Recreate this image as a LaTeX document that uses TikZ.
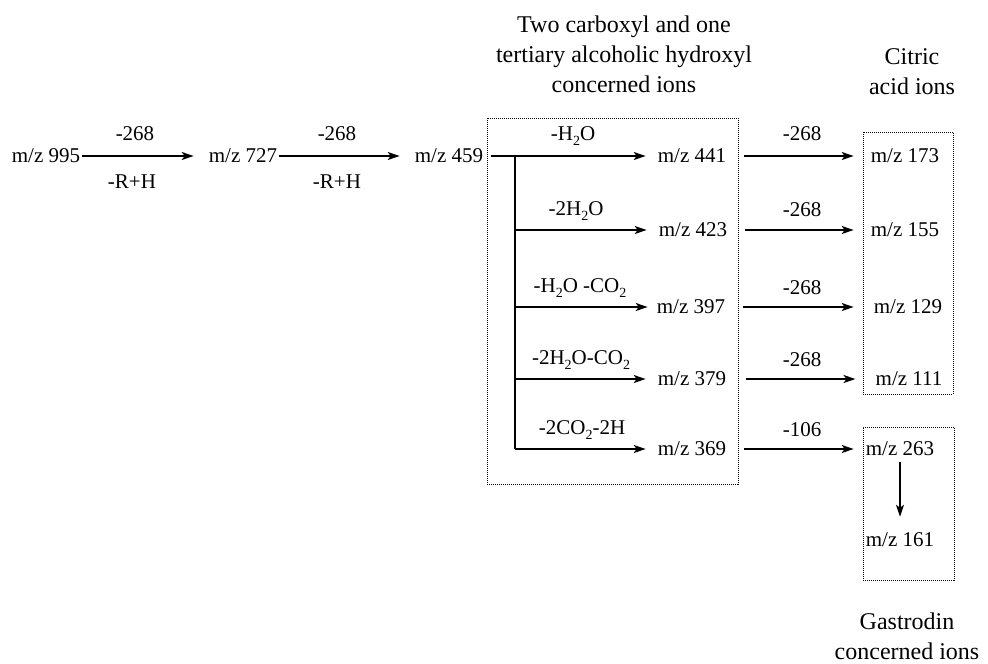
\documentclass[tikz,border=0pt]{standalone}
\usepackage{fontspec}
\setmainfont{Liberation Serif}
\usetikzlibrary{arrows.meta}
\newcommand\subtwo{\raisebox{-0.5ex}{\fontsize{14}{14}\selectfont 2}}
\begin{document}
\begin{tikzpicture}[x=1pt,y=-1pt,
  ion/.style={font=\fontsize{21}{25}\selectfont, inner sep=0pt},
  lbl/.style={font=\fontsize{21}{25}\selectfont, inner sep=0pt},
  ttl/.style={font=\fontsize{24}{30}\selectfont, align=center, inner sep=0pt, anchor=north},
  arr/.style={line width=1.3pt, -{Stealth[length=12pt,width=8pt,inset=3pt]}},
  ln/.style={line width=1.3pt},
  grp/.style={draw, line width=0.8pt, dash pattern=on 1pt off 1pt, inner sep=0pt}]
\useasboundingbox (0,0) rectangle (988,664);
\fill[white] (0,0) rectangle (988,664);

% titles
\node[ttl] (tA) at (624,16) {Two carboxyl and one\\tertiary alcoholic hydroxyl\\concerned ions};
\node[ttl] (tB) at (912,48) {Citric\\acid ions};
\node[ttl] (tC) at (907,613) {Gastrodin\\concerned ions};

% group boxes
\node[grp, minimum width=251pt, minimum height=366pt] (box1) at (612.5,301) {};
\node[grp, minimum width=90pt, minimum height=262pt] (box2) at (908,263) {};
\node[grp, minimum width=91pt, minimum height=153pt] (box3) at (908.5,503.5) {};

% first row
\node[ion] (n995) at (46,156) {m/z 995};
\node[ion] (n727) at (243,156) {m/z 727};
\node[ion] (n459) at (449,156) {m/z 459};
\draw[arr, shorten <=2pt, shorten >=15pt] (n995.east) -- (n727.west);
\draw[arr, shorten <=2pt, shorten >=15pt] (n727.east) -- (n459.west);
\node[lbl] (l1a) at (135,134) {-268};
\node[lbl] (l1b) at (132,182) {-R+H};
\node[lbl] (l2a) at (337,134) {-268};
\node[lbl] (l2b) at (337,182) {-R+H};

% branch products
\node[ion] (n441) at (692,156) {m/z 441};
\node[ion] (n423) at (693,230) {m/z 423};
\node[ion] (n397) at (691,307) {m/z 397};
\node[ion] (n379) at (692,379) {m/z 379};
\node[ion] (n369) at (692,449) {m/z 369};

\coordinate (tr) at (515,156);
\coordinate (tb) at (515,449);
\draw[arr, shorten <=8pt, shorten >=12pt] (n459.east) -- (n441.west);
\draw[ln] (tr) -- (tb);
\draw[arr, shorten >=12pt] (tr |- n423) -- (n423.west);
\draw[arr, shorten >=9pt] (tr |- n397) -- (n397.west);
\draw[arr, shorten >=12pt] (tr |- n379) -- (n379.west);
\draw[arr, shorten >=12pt] (tb) -- (n369.west);

\node[lbl] (b1) at (573,136) {-H\subtwo O};
\node[lbl] (b2) at (576,211) {-2H\subtwo O};
\node[lbl] (b3) at (580,288) {-H\subtwo O -CO\subtwo};
\node[lbl] (b4) at (581,360) {-2H\subtwo O-CO\subtwo};
\node[lbl] (b5) at (582,430) {-2CO\subtwo-2H};

% citric acid ions
\node[ion] (n173) at (905,156) {m/z 173};
\node[ion] (n155) at (905,230) {m/z 155};
\node[ion] (n129) at (908,307) {m/z 129};
\node[ion] (n111) at (909,379) {m/z 111};
\draw[arr, shorten <=18pt, shorten >=17pt] (n441.east) -- (n173.west);
\draw[arr, shorten <=18pt, shorten >=17pt] (n423.east) -- (n155.west);
\draw[arr, shorten <=18pt, shorten >=20pt] (n397.east) -- (n129.west);
\draw[arr, shorten <=20pt, shorten >=20pt] (n379.east) -- (n111.west);
\node[lbl] (c1) at (802,134) {-268};
\node[lbl] (c2) at (802,210) {-268};
\node[lbl] (c3) at (802,288) {-268};
\node[lbl] (c4) at (802,360) {-268};

% gastrodin ions
\node[ion] (n263) at (900,449) {m/z 263};
\node[ion] (n161) at (900,540) {m/z 161};
\draw[arr, shorten <=18pt, shorten >=12pt] (n369.east) -- (n263.west);
\node[lbl] (c5) at (802,430) {-106};
\draw[arr, shorten <=6pt, shorten >=16pt] (n263.south) -- (n161.north);
\end{tikzpicture}
\end{document}
